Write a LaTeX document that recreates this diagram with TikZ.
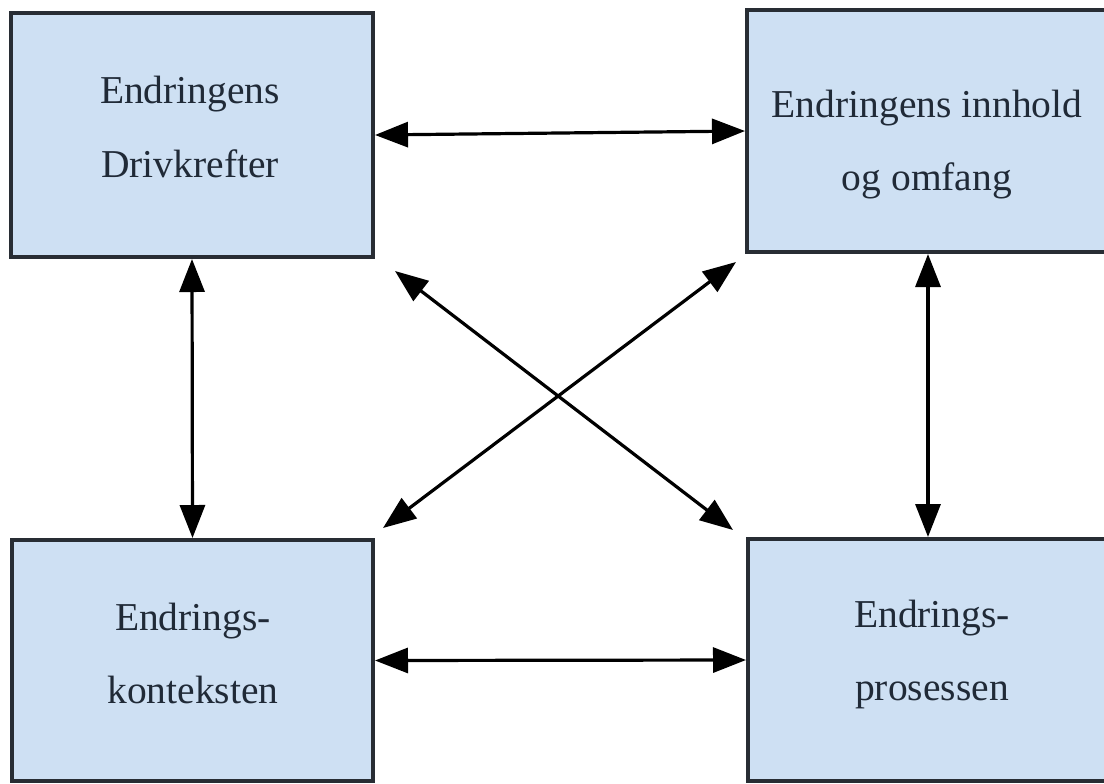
\documentclass[tikz,border=0pt]{standalone}
\usepackage{fontspec}
\setmainfont{Liberation Serif}
\usetikzlibrary{arrows.meta}
\definecolor{boxfill}{RGB}{206,224,243}
\definecolor{boxline}{RGB}{40,45,52}
\definecolor{txt}{RGB}{32,42,55}
\tikzset{
  box/.style={draw=boxline, line width=2pt, fill=boxfill, rectangle, inner sep=0pt},
  lbl/.style={anchor=base, text=txt, inner sep=0pt, font=\fontsize{19.75pt}{23pt}\selectfont},
  arr/.style={line width=1.6pt, {Triangle[length=16.5pt,width=12.5pt]}-{Triangle[length=16.5pt,width=12.5pt]}}
}
\begin{document}
\begin{tikzpicture}[x=0.5pt, y=-0.5pt]
\useasboundingbox (0,0) rectangle (1104,783);
\clip (0,0) rectangle (1104,783);
\fill[white] (0,0) rectangle (1104,783);
% the four boxes
\node[box, minimum width=362pt*0.5, minimum height=244pt*0.5] (tl) at (192,135) {};
\node[box, minimum width=359pt*0.5, minimum height=242pt*0.5] (tr) at (926.5,131) {};
\node[box, minimum width=361pt*0.5, minimum height=241pt*0.5] (bl) at (192.5,660.5) {};
\node[box, minimum width=358pt*0.5, minimum height=242pt*0.5] (br) at (927,660) {};
% box texts
\node[lbl] (tl1) at (190,103) {Endringens};
\node[lbl] (tl2) at (190,177) {Drivkrefter};
\node[lbl] (tr1) at (927,117) {Endringens innhold};
\node[lbl] (tr2) at (927,190) {og omfang};
\node[lbl] (bl1) at (193,630) {Endrings-};
\node[lbl] (bl2) at (193,703) {konteksten};
\node[lbl] (br1) at (932,627) {Endrings-};
\node[lbl] (br2) at (932,700) {prosessen};
% connectors
\draw[arr] (tl.east) -- (tr.west);
\draw[arr] (bl.east) -- (br.west);
\draw[arr] (tl.south) -- (bl.north);
\draw[arr] ([xshift=1.5pt*0.5]tr.south) -- ([xshift=1pt*0.5]br.north);
\draw[arr] ([shift={(20,12)}]tl.south east) -- ([shift={(-13,-7)}]br.north west);
\draw[arr] ([shift={(-9,8)}]tr.south west) -- ([shift={(8,-10)}]bl.north east);
\end{tikzpicture}
\end{document}
